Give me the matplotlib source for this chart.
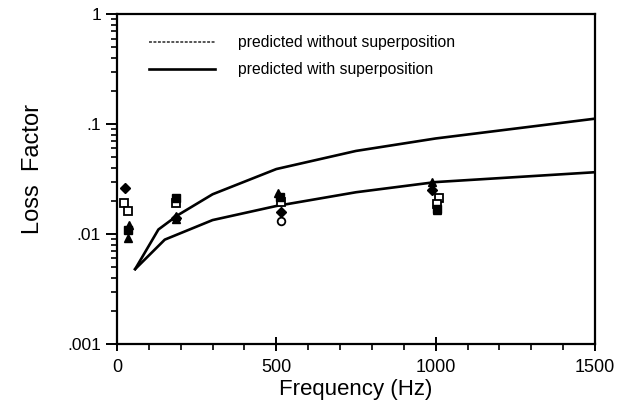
"""Loss factor vs frequency: measured points and two predicted curves."""

import matplotlib
matplotlib.use("Agg")
import matplotlib.pyplot as plt
from matplotlib.lines import Line2D
from matplotlib.ticker import FixedLocator, LogLocator, MultipleLocator

plt.rcParams["font.family"] = ["Liberation Sans", "DejaVu Sans"]

# predicted curves
freq_without = [57, 130, 190, 300, 500, 750, 1000, 1500]
loss_without = [0.0048, 0.0110, 0.0148, 0.023, 0.039, 0.057, 0.074, 0.112]
freq_with = [57, 150, 300, 500, 750, 1000, 1500]
loss_with = [0.0048, 0.0089, 0.0134, 0.018, 0.024, 0.0297, 0.0365]

# measured points, one list per marker type
diamond_f = [25, 185, 515, 990]
diamond_v = [0.026, 0.014, 0.0158, 0.025]
opensq_f = [22, 185, 515, 1010]
opensq_v = [0.019, 0.019, 0.0195, 0.0212]
opensq2_f = [35, 1005]
opensq2_v = [0.0162, 0.0187]
tri_f = [35, 185, 505, 990]
tri_v = [0.0092, 0.0138, 0.0236, 0.0297]
fillsq_f = [35, 185, 510, 1005]
fillsq_v = [0.0109, 0.0212, 0.0217, 0.0170]
tri2_f = [38, 185, 1005]
tri2_v = [0.012, 0.0145, 0.0164]
circ_f = [515]
circ_v = [0.0131]

fig = plt.figure(figsize=(6.34, 4.15), dpi=100)
ax = fig.add_axes([0.1845, 0.171, 0.754, 0.795])

ax.plot(freq_without, loss_without, color="black", lw=1.9)
ax.plot(freq_with, loss_with, color="black", lw=1.9)

ms = 5.5
ax.plot(diamond_f, diamond_v, "D", color="black", ms=ms - 0.5, ls="none")
ax.plot(opensq_f, opensq_v, "s", mfc="white", mec="black", mew=1.3, ms=ms, ls="none")
ax.plot(opensq2_f, opensq2_v, "s", mfc="white", mec="black", mew=1.3, ms=ms, ls="none")
ax.plot(tri_f, tri_v, "^", color="black", ms=ms + 0.5, ls="none")
ax.plot(fillsq_f, fillsq_v, "s", color="black", ms=ms, ls="none")
ax.plot(tri2_f, tri2_v, "^", color="black", ms=ms + 0.5, ls="none")
ax.plot(circ_f, circ_v, "o", mfc="white", mec="black", mew=1.3, ms=ms, ls="none")

ax.set_yscale("log")
ax.set_xlim(0, 1500)
ax.set_ylim(0.001, 1)

ax.xaxis.set_major_locator(FixedLocator([0, 500, 1000, 1500]))
ax.xaxis.set_minor_locator(MultipleLocator(100))
ax.set_xticklabels(["0", "500", "1000", "1500"])
ax.yaxis.set_major_locator(FixedLocator([0.001, 0.01, 0.1, 1]))
ax.yaxis.set_minor_locator(LogLocator(base=10, subs=range(2, 10)))
ax.set_yticklabels([".001", ".01", ".1", "1"])
ax.yaxis.set_minor_formatter(plt.NullFormatter())

ax.tick_params(axis="y", which="major", direction="out", length=8, width=1.4,
               labelsize=12.5, right=False)
ax.tick_params(axis="y", which="minor", direction="out", length=4, width=1.2,
               right=False)
ax.tick_params(axis="x", which="major", direction="inout", length=10, width=1.4,
               labelsize=13, top=False, pad=6)
ax.tick_params(axis="x", which="minor", direction="out", length=4, width=1.2,
               top=False)
for sp in ax.spines.values():
    sp.set_linewidth(1.6)

ax.set_xlabel("Frequency (Hz)", fontsize=16, labelpad=2)
ax.set_ylabel("Loss  Factor", fontsize=17)
ax.yaxis.set_label_coords(-0.152, 0.53)

handles = [
    Line2D([], [], color="#555555", lw=1.4, ls=(0, (1.5, 0.8))),
    Line2D([], [], color="black", lw=1.9),
]
labels = ["predicted without superposition", "predicted with superposition"]
ax.legend(handles, labels, loc="upper left", bbox_to_anchor=(0.037, 0.978),
          frameon=False, fontsize=11.3, handlelength=4.2, handletextpad=1.5,
          labelspacing=0.75)

fig.savefig("out.png", dpi=100)
